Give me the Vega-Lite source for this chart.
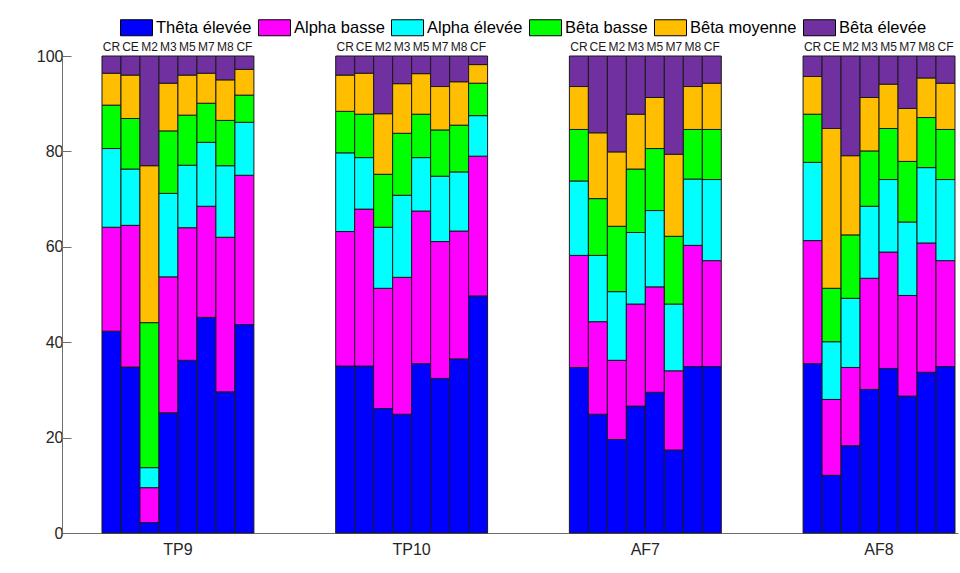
{
  "$schema": "https://vega.github.io/schema/vega-lite/v6.json",
  "width": 896,
  "height": 477,
  "autosize": {"type": "none"},
  "padding": {"left": 62, "top": 56, "right": 2, "bottom": 40},
  "background": "white",
  "config": {
    "font": "Liberation Sans",
    "view": {"stroke": null},
    "legend": {
      "orient": "none",
      "legendX": 58,
      "legendY": -45,
      "direction": "horizontal",
      "columns": 6,
      "symbolType": "M-1,-0.5H1V0.5H-1Z",
      "symbolSize": 1024,
      "symbolStrokeColor": "#000000",
      "symbolStrokeWidth": 1,
      "symbolOpacity": 1,
      "labelFontSize": 16.5,
      "labelColor": "#000000",
      "labelFont": "Liberation Sans",
      "labelLimit": 300,
      "columnPadding": 4,
      "labelOffset": 3,
      "padding": 0
    }
  },
  "data": {
    "values": [
      {"g": "TP9", "c": "CR", "Thêta élevée": 42.3, "Alpha basse": 21.8, "Alpha élevée": 16.5, "Bêta basse": 9.1, "Bêta moyenne": 6.7, "Bêta élevée": 3.6},
      {"g": "TP9", "c": "CE", "Thêta élevée": 34.8, "Alpha basse": 29.7, "Alpha élevée": 11.8, "Bêta basse": 10.6, "Bêta moyenne": 9.1, "Bêta élevée": 4.0},
      {"g": "TP9", "c": "M2", "Thêta élevée": 2.2, "Alpha basse": 7.3, "Alpha élevée": 4.2, "Bêta basse": 30.4, "Bêta moyenne": 32.9, "Bêta élevée": 23.0},
      {"g": "TP9", "c": "M3", "Thêta élevée": 25.2, "Alpha basse": 28.5, "Alpha élevée": 17.5, "Bêta basse": 13.1, "Bêta moyenne": 10.0, "Bêta élevée": 5.7},
      {"g": "TP9", "c": "M5", "Thêta élevée": 36.2, "Alpha basse": 27.8, "Alpha élevée": 13.1, "Bêta basse": 10.5, "Bêta moyenne": 8.4, "Bêta élevée": 4.0},
      {"g": "TP9", "c": "M7", "Thêta élevée": 45.2, "Alpha basse": 23.3, "Alpha élevée": 13.4, "Bêta basse": 8.2, "Bêta moyenne": 6.3, "Bêta élevée": 3.6},
      {"g": "TP9", "c": "M8", "Thêta élevée": 29.6, "Alpha basse": 32.4, "Alpha élevée": 15.0, "Bêta basse": 9.5, "Bêta moyenne": 8.5, "Bêta élevée": 5.0},
      {"g": "TP9", "c": "CF", "Thêta élevée": 43.7, "Alpha basse": 31.3, "Alpha élevée": 11.1, "Bêta basse": 5.7, "Bêta moyenne": 5.4, "Bêta élevée": 2.8},
      {"g": "TP10", "c": "CR", "Thêta élevée": 35.0, "Alpha basse": 28.2, "Alpha élevée": 16.5, "Bêta basse": 8.7, "Bêta moyenne": 7.6, "Bêta élevée": 4.0},
      {"g": "TP10", "c": "CE", "Thêta élevée": 35.0, "Alpha basse": 32.9, "Alpha élevée": 10.8, "Bêta basse": 9.1, "Bêta moyenne": 8.6, "Bêta élevée": 3.6},
      {"g": "TP10", "c": "M2", "Thêta élevée": 26.1, "Alpha basse": 25.2, "Alpha élevée": 12.8, "Bêta basse": 11.1, "Bêta moyenne": 12.7, "Bêta élevée": 12.1},
      {"g": "TP10", "c": "M3", "Thêta élevée": 24.9, "Alpha basse": 28.7, "Alpha élevée": 17.2, "Bêta basse": 13.0, "Bêta moyenne": 10.4, "Bêta élevée": 5.8},
      {"g": "TP10", "c": "M5", "Thêta élevée": 35.5, "Alpha basse": 32.0, "Alpha élevée": 11.2, "Bêta basse": 9.1, "Bêta moyenne": 8.5, "Bêta élevée": 3.7},
      {"g": "TP10", "c": "M7", "Thêta élevée": 32.4, "Alpha basse": 28.7, "Alpha élevée": 13.7, "Bêta basse": 9.7, "Bêta moyenne": 9.1, "Bêta élevée": 6.4},
      {"g": "TP10", "c": "M8", "Thêta élevée": 36.5, "Alpha basse": 26.8, "Alpha élevée": 12.4, "Bêta basse": 9.8, "Bêta moyenne": 9.1, "Bêta élevée": 5.4},
      {"g": "TP10", "c": "CF", "Thêta élevée": 49.7, "Alpha basse": 29.3, "Alpha élevée": 8.5, "Bêta basse": 6.8, "Bêta moyenne": 3.9, "Bêta élevée": 1.8},
      {"g": "AF7", "c": "CR", "Thêta élevée": 34.7, "Alpha basse": 23.5, "Alpha élevée": 15.6, "Bêta basse": 10.8, "Bêta moyenne": 9.0, "Bêta élevée": 6.4},
      {"g": "AF7", "c": "CE", "Thêta élevée": 24.9, "Alpha basse": 19.4, "Alpha élevée": 13.9, "Bêta basse": 11.9, "Bêta moyenne": 13.8, "Bêta élevée": 16.1},
      {"g": "AF7", "c": "M2", "Thêta élevée": 19.6, "Alpha basse": 16.6, "Alpha élevée": 14.4, "Bêta basse": 13.7, "Bêta moyenne": 15.6, "Bêta élevée": 20.1},
      {"g": "AF7", "c": "M3", "Thêta élevée": 26.6, "Alpha basse": 21.4, "Alpha élevée": 15.0, "Bêta basse": 13.3, "Bêta moyenne": 11.5, "Bêta élevée": 12.2},
      {"g": "AF7", "c": "M5", "Thêta élevée": 29.5, "Alpha basse": 22.1, "Alpha élevée": 16.0, "Bêta basse": 13.0, "Bêta moyenne": 10.7, "Bêta élevée": 8.7},
      {"g": "AF7", "c": "M7", "Thêta élevée": 17.4, "Alpha basse": 16.6, "Alpha élevée": 14.0, "Bêta basse": 14.2, "Bêta moyenne": 17.2, "Bêta élevée": 20.6},
      {"g": "AF7", "c": "M8", "Thêta élevée": 34.9, "Alpha basse": 25.4, "Alpha élevée": 13.9, "Bêta basse": 10.4, "Bêta moyenne": 9.0, "Bêta élevée": 6.4},
      {"g": "AF7", "c": "CF", "Thêta élevée": 34.9, "Alpha basse": 22.2, "Alpha élevée": 17.0, "Bêta basse": 10.5, "Bêta moyenne": 9.7, "Bêta élevée": 5.7},
      {"g": "AF8", "c": "CR", "Thêta élevée": 35.5, "Alpha basse": 25.8, "Alpha élevée": 16.4, "Bêta basse": 10.1, "Bêta moyenne": 7.9, "Bêta élevée": 4.3},
      {"g": "AF8", "c": "CE", "Thêta élevée": 12.1, "Alpha basse": 15.9, "Alpha élevée": 12.1, "Bêta basse": 11.2, "Bêta moyenne": 33.5, "Bêta élevée": 15.2},
      {"g": "AF8", "c": "M2", "Thêta élevée": 18.3, "Alpha basse": 16.4, "Alpha élevée": 14.5, "Bêta basse": 13.3, "Bêta moyenne": 16.6, "Bêta élevée": 20.9},
      {"g": "AF8", "c": "M3", "Thêta élevée": 30.1, "Alpha basse": 23.3, "Alpha élevée": 15.1, "Bêta basse": 11.6, "Bêta moyenne": 11.2, "Bêta élevée": 8.7},
      {"g": "AF8", "c": "M5", "Thêta élevée": 34.5, "Alpha basse": 24.4, "Alpha élevée": 15.2, "Bêta basse": 10.7, "Bêta moyenne": 9.3, "Bêta élevée": 5.9},
      {"g": "AF8", "c": "M7", "Thêta élevée": 28.7, "Alpha basse": 21.1, "Alpha élevée": 15.4, "Bêta basse": 12.7, "Bêta moyenne": 11.1, "Bêta élevée": 11.0},
      {"g": "AF8", "c": "M8", "Thêta élevée": 33.7, "Alpha basse": 27.1, "Alpha élevée": 15.8, "Bêta basse": 10.5, "Bêta moyenne": 8.3, "Bêta élevée": 4.6},
      {"g": "AF8", "c": "CF", "Thêta élevée": 34.9, "Alpha basse": 22.2, "Alpha élevée": 17.0, "Bêta basse": 10.5, "Bêta moyenne": 9.7, "Bêta élevée": 5.7}
    ]
  },
  "transform": [
    {"fold": ["Thêta élevée", "Alpha basse", "Alpha élevée", "Bêta basse", "Bêta moyenne", "Bêta élevée"], "as": ["bande", "valeur"]}
  ],
  "encoding": {
    "x": {
      "field": "g",
      "type": "nominal",
      "sort": ["TP9", "TP10", "AF7", "AF8"],
      "scale": {"paddingInner": 0.35, "paddingOuter": 0.092, "align": 0.93},
      "axis": {
        "title": null,
        "labelAngle": 0,
        "labelFontSize": 16,
        "labelColor": "#262626",
        "labelPadding": 8,
        "ticks": false,
        "domainColor": "#6e6e6e",
        "domainWidth": 1
      }
    },
    "xOffset": {
      "field": "c",
      "type": "nominal",
      "sort": ["CR", "CE", "M2", "M3", "M5", "M7", "M8", "CF"],
      "scale": {"paddingInner": 0, "paddingOuter": 0}
    }
  },
  "layer": [
    {
      "mark": {"type": "bar", "stroke": "#1a1a1a", "strokeWidth": 1, "opacity": 1},
      "encoding": {
        "y": {
          "field": "valeur",
          "type": "quantitative",
          "stack": "zero",
          "scale": {"domain": [0, 100], "nice": false},
          "axis": {
            "title": null,
            "values": [0, 20, 40, 60, 80, 100],
            "grid": false,
            "labelFontSize": 16,
            "labelColor": "#262626",
            "tickSize": -9,
            "tickColor": "#6e6e6e",
            "domainColor": "#6e6e6e",
            "labelPadding": 8
          }
        },
        "color": {
          "field": "bande",
          "type": "nominal",
          "sort": ["Thêta élevée", "Alpha basse", "Alpha élevée", "Bêta basse", "Bêta moyenne", "Bêta élevée"],
          "scale": {
            "domain": ["Thêta élevée", "Alpha basse", "Alpha élevée", "Bêta basse", "Bêta moyenne", "Bêta élevée"],
            "range": ["#0000FF", "#FF00FF", "#00FFFF", "#00FF00", "#FFBF00", "#7030A0"]
          },
          "legend": {"title": null}
        },
        "order": {"field": "ordre", "type": "quantitative"}
      },
      "transform": [
        {"lookup": "bande", "from": {"data": {"values": [
          {"bande": "Thêta élevée", "ordre": 1},
          {"bande": "Alpha basse", "ordre": 2},
          {"bande": "Alpha élevée", "ordre": 3},
          {"bande": "Bêta basse", "ordre": 4},
          {"bande": "Bêta moyenne", "ordre": 5},
          {"bande": "Bêta élevée", "ordre": 6}
        ]}, "key": "bande", "fields": ["ordre"]}}
      ]
    },
    {
      "transform": [{"filter": "datum.bande === 'Thêta élevée'"}],
      "mark": {"type": "text", "fontSize": 12, "color": "#1a1a1a", "baseline": "alphabetic", "dy": -5},
      "encoding": {
        "y": {"datum": 100},
        "text": {"field": "c"}
      }
    }
  ]
}
